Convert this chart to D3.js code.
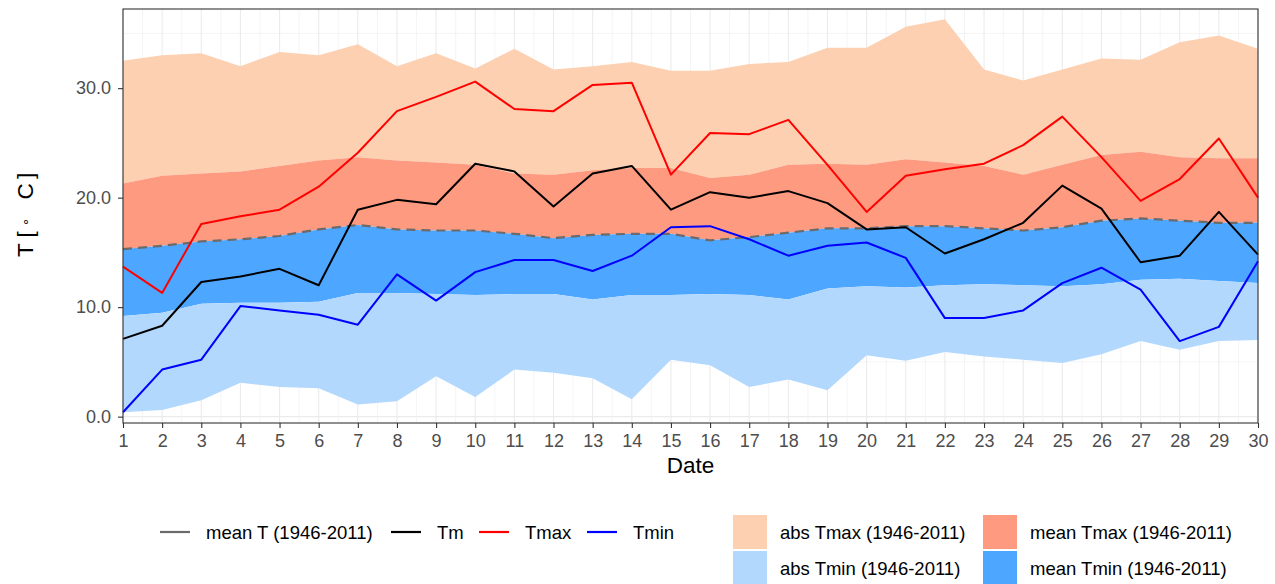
<!DOCTYPE html>
<html>
<head>
<meta charset="utf-8">
<script src="https://cdn.jsdelivr.net/npm/d3@7"></script>
<style>
  body { margin: 0; background: #fff; }
  svg text { font-family: "Liberation Sans", Arial, sans-serif; }
</style>
</head>
<body>
<script>
// daily values
let days = [1, 2, 3, 4, 5, 6, 7, 8, 9, 10, 11, 12, 13, 14, 15, 16, 17, 18, 19, 20, 21, 22, 23, 24, 25, 26, 27, 28, 29, 30];
let absTmax = [32.5, 33.0, 33.2, 32.0, 33.3, 33.0, 34.0, 32.0, 33.2, 31.8, 33.6, 31.7, 32.0, 32.4, 31.6, 31.6, 32.2, 32.4, 33.7, 33.7, 35.6, 36.3, 31.7, 30.7, 31.7, 32.7, 32.6, 34.2, 34.8, 33.6];
let meanTmax = [21.3, 22.0, 22.2, 22.4, 22.9, 23.4, 23.7, 23.4, 23.2, 23.0, 22.2, 22.1, 22.5, 22.7, 22.7, 21.8, 22.1, 23.0, 23.1, 23.0, 23.5, 23.2, 22.9, 22.1, 23.0, 23.9, 24.2, 23.7, 23.6, 23.6];
let meanT = [15.3, 15.6, 16.0, 16.2, 16.5, 17.1, 17.5, 17.1, 17.0, 17.0, 16.7, 16.3, 16.6, 16.7, 16.7, 16.1, 16.4, 16.8, 17.2, 17.2, 17.4, 17.4, 17.2, 17.0, 17.3, 17.9, 18.1, 17.9, 17.7, 17.7];
let meanTmin = [9.2, 9.5, 10.3, 10.4, 10.4, 10.5, 11.3, 11.3, 11.2, 11.1, 11.2, 11.2, 10.7, 11.1, 11.1, 11.2, 11.1, 10.7, 11.7, 11.9, 11.8, 12.0, 12.1, 12.0, 11.9, 12.1, 12.5, 12.6, 12.4, 12.2];
let absTmin = [0.4, 0.6, 1.5, 3.1, 2.7, 2.6, 1.1, 1.4, 3.7, 1.8, 4.3, 4.0, 3.5, 1.6, 5.2, 4.7, 2.7, 3.4, 2.4, 5.6, 5.1, 5.9, 5.5, 5.2, 4.9, 5.7, 6.9, 6.1, 6.9, 7.0];
let Tm = [7.1, 8.3, 12.3, 12.8, 13.5, 12.0, 18.9, 19.8, 19.4, 23.1, 22.4, 19.2, 22.2, 22.9, 18.9, 20.5, 20.0, 20.6, 19.5, 17.1, 17.3, 14.9, 16.2, 17.7, 21.1, 19.0, 14.1, 14.7, 18.7, 14.8];
let Tmax = [13.7, 11.3, 17.6, 18.3, 18.9, 21.0, 24.1, 27.9, 29.2, 30.6, 28.1, 27.9, 30.3, 30.5, 22.1, 25.9, 25.8, 27.1, 23.0, 18.7, 22.0, 22.6, 23.1, 24.8, 27.4, 23.7, 19.7, 21.7, 25.4, 20.0];
let Tmin = [0.4, 4.3, 5.2, 10.1, 9.7, 9.3, 8.4, 13.0, 10.6, 13.2, 14.3, 14.3, 13.3, 14.7, 17.3, 17.4, 16.2, 14.7, 15.6, 15.9, 14.5, 9.0, 9.0, 9.7, 12.2, 13.6, 11.6, 6.9, 8.2, 14.2];

let yTicks = [0, 10, 20, 30];
let lineNames = ['mean T (1946-2011)', 'Tm', 'Tmax', 'Tmin'];
let bandNames = ['abs Tmax (1946-2011)', 'abs Tmin (1946-2011)', 'mean Tmax (1946-2011)', 'mean Tmin (1946-2011)'];

let lineColor = { 'mean T (1946-2011)': '#6b6b6b', 'Tm': '#000000', 'Tmax': '#ff0000', 'Tmin': '#0000ff' };
let bandColor = { 'abs Tmax (1946-2011)': '#fdd0b1', 'mean Tmax (1946-2011)': '#fd9a80', 'abs Tmin (1946-2011)': '#b3d8fd', 'mean Tmin (1946-2011)': '#4da6ff' };

let width = 1275;
let height = 584;
let panel = { left: 123, right: 1258, top: 9, bottom: 423 };

let x = d3.scaleLinear().domain([1, 30]).range([panel.left, panel.right]);
let y = d3.scaleLinear().domain([-0.58, 37.23]).range([panel.bottom, panel.top]);

let svg = d3.select('body').append('svg').attr('width', width).attr('height', height);

// grid, minor first then major
let grid = svg.append('g');
let minorX = d3.range(1.5, 30, 1);
let minorY = [5, 15, 25, 35];
grid.selectAll('.mx').data(minorX).enter().append('line')
  .attr('x1', d => x(d)).attr('x2', d => x(d)).attr('y1', panel.top).attr('y2', panel.bottom)
  .attr('stroke', '#ebebeb').attr('stroke-width', 0.55);
grid.selectAll('.my').data(minorY).enter().append('line')
  .attr('x1', panel.left).attr('x2', panel.right).attr('y1', d => y(d)).attr('y2', d => y(d))
  .attr('stroke', '#ebebeb').attr('stroke-width', 0.55);
grid.selectAll('.Mx').data(days).enter().append('line')
  .attr('x1', d => x(d)).attr('x2', d => x(d)).attr('y1', panel.top).attr('y2', panel.bottom)
  .attr('stroke', '#ebebeb').attr('stroke-width', 1.1);
grid.selectAll('.My').data(yTicks).enter().append('line')
  .attr('x1', panel.left).attr('x2', panel.right).attr('y1', d => y(d)).attr('y2', d => y(d))
  .attr('stroke', '#ebebeb').attr('stroke-width', 1.1);

// ribbons
let band = function (lo, hi) {
  return d3.area()
    .x((d, i) => x(days[i]))
    .y0((d, i) => y(lo[i]))
    .y1((d, i) => y(hi[i]))(days);
};
let plot = svg.append('g');
plot.append('path').attr('d', band(meanTmax, absTmax)).attr('fill', bandColor['abs Tmax (1946-2011)']);
plot.append('path').attr('d', band(meanT, meanTmax)).attr('fill', bandColor['mean Tmax (1946-2011)']);
plot.append('path').attr('d', band(meanTmin, meanT)).attr('fill', bandColor['mean Tmin (1946-2011)']);
plot.append('path').attr('d', band(absTmin, meanTmin)).attr('fill', bandColor['abs Tmin (1946-2011)']);

// lines
let line = d3.line().x((d, i) => x(days[i])).y(d => y(d));
plot.append('path').attr('d', line(meanT)).attr('fill', 'none')
  .attr('stroke', lineColor['mean T (1946-2011)']).attr('stroke-width', 2.2).attr('stroke-dasharray', '9,6');
[['Tm', Tm], ['Tmax', Tmax], ['Tmin', Tmin]].forEach(function (s) {
  plot.append('path').attr('d', line(s[1])).attr('fill', 'none')
    .attr('stroke', lineColor[s[0]]).attr('stroke-width', 2).attr('stroke-linejoin', 'round');
});

// panel border
svg.append('rect')
  .attr('x', panel.left).attr('y', panel.top)
  .attr('width', panel.right - panel.left).attr('height', panel.bottom - panel.top)
  .attr('fill', 'none').attr('stroke', '#333').attr('stroke-width', 1.1);

// axes
let xAxis = d3.axisBottom(x).tickValues(days).tickFormat(d3.format('d')).tickSize(5).tickPadding(6);
let yAxis = d3.axisLeft(y).tickValues(yTicks).tickFormat(d3.format('.1f')).tickSize(5).tickPadding(7);

let gx = svg.append('g').attr('transform', 'translate(0,' + panel.bottom + ')').call(xAxis);
let gy = svg.append('g').attr('transform', 'translate(' + panel.left + ',0)').call(yAxis);
[gx, gy].forEach(function (g) {
  g.select('.domain').remove();
  g.selectAll('.tick line').attr('stroke', '#333').attr('stroke-width', 1.1);
  g.selectAll('.tick text').attr('fill', '#4d4d4d').style('font-size', '18px')
    .attr('font-family', null);
});

// axis titles
svg.append('text')
  .attr('x', (panel.left + panel.right) / 2).attr('y', 473)
  .attr('text-anchor', 'middle').style('font-size', '22.5px').attr('fill', '#000')
  .text('Date');

// y title: T [ ∘ C], rotated
let yTitle = svg.append('g').attr('transform', 'translate(33,0) rotate(-90)');
yTitle.append('text').attr('x', -257).attr('y', 0)
  .style('font-size', '22.5px').attr('fill', '#000').text('T [');
yTitle.append('text').attr('x', -222).attr('y', -8).attr('text-anchor', 'middle')
  .attr('dominant-baseline', 'central')
  .style('font-size', '13px').style('font-family', 'DejaVu Sans').attr('fill', '#000').text('∘');
yTitle.append('text').attr('x', -199.5).attr('y', 0)
  .style('font-size', '22.5px').attr('fill', '#000').text('C');
yTitle.append('text').attr('x', -179).attr('y', 0)
  .style('font-size', '22.5px').attr('fill', '#000').text(']');

// legend: lines
let lineKeyX = [160, 391, 479, 587];
let lg = svg.append('g');
lineNames.forEach(function (name, i) {
  lg.append('line')
    .attr('x1', lineKeyX[i]).attr('x2', lineKeyX[i] + 30).attr('y1', 532).attr('y2', 532)
    .attr('stroke', lineColor[name]).attr('stroke-width', 2.2);
  lg.append('text')
    .attr('x', lineKeyX[i] + 46).attr('y', 539)
    .style('font-size', '18.5px').attr('fill', '#000').text(name);
});

// legend: fills, two columns by two rows
let bandKeyX = [733, 733, 983, 983];
let bandKeyY = [515, 551, 515, 551];
bandNames.forEach(function (name, i) {
  lg.append('rect')
    .attr('x', bandKeyX[i]).attr('y', bandKeyY[i]).attr('width', 34).attr('height', 34)
    .attr('fill', bandColor[name]);
  lg.append('text')
    .attr('x', bandKeyX[i] + 47).attr('y', bandKeyY[i] + 24)
    .style('font-size', '18.5px').attr('fill', '#000').text(name);
});
</script>
</body>
</html>
